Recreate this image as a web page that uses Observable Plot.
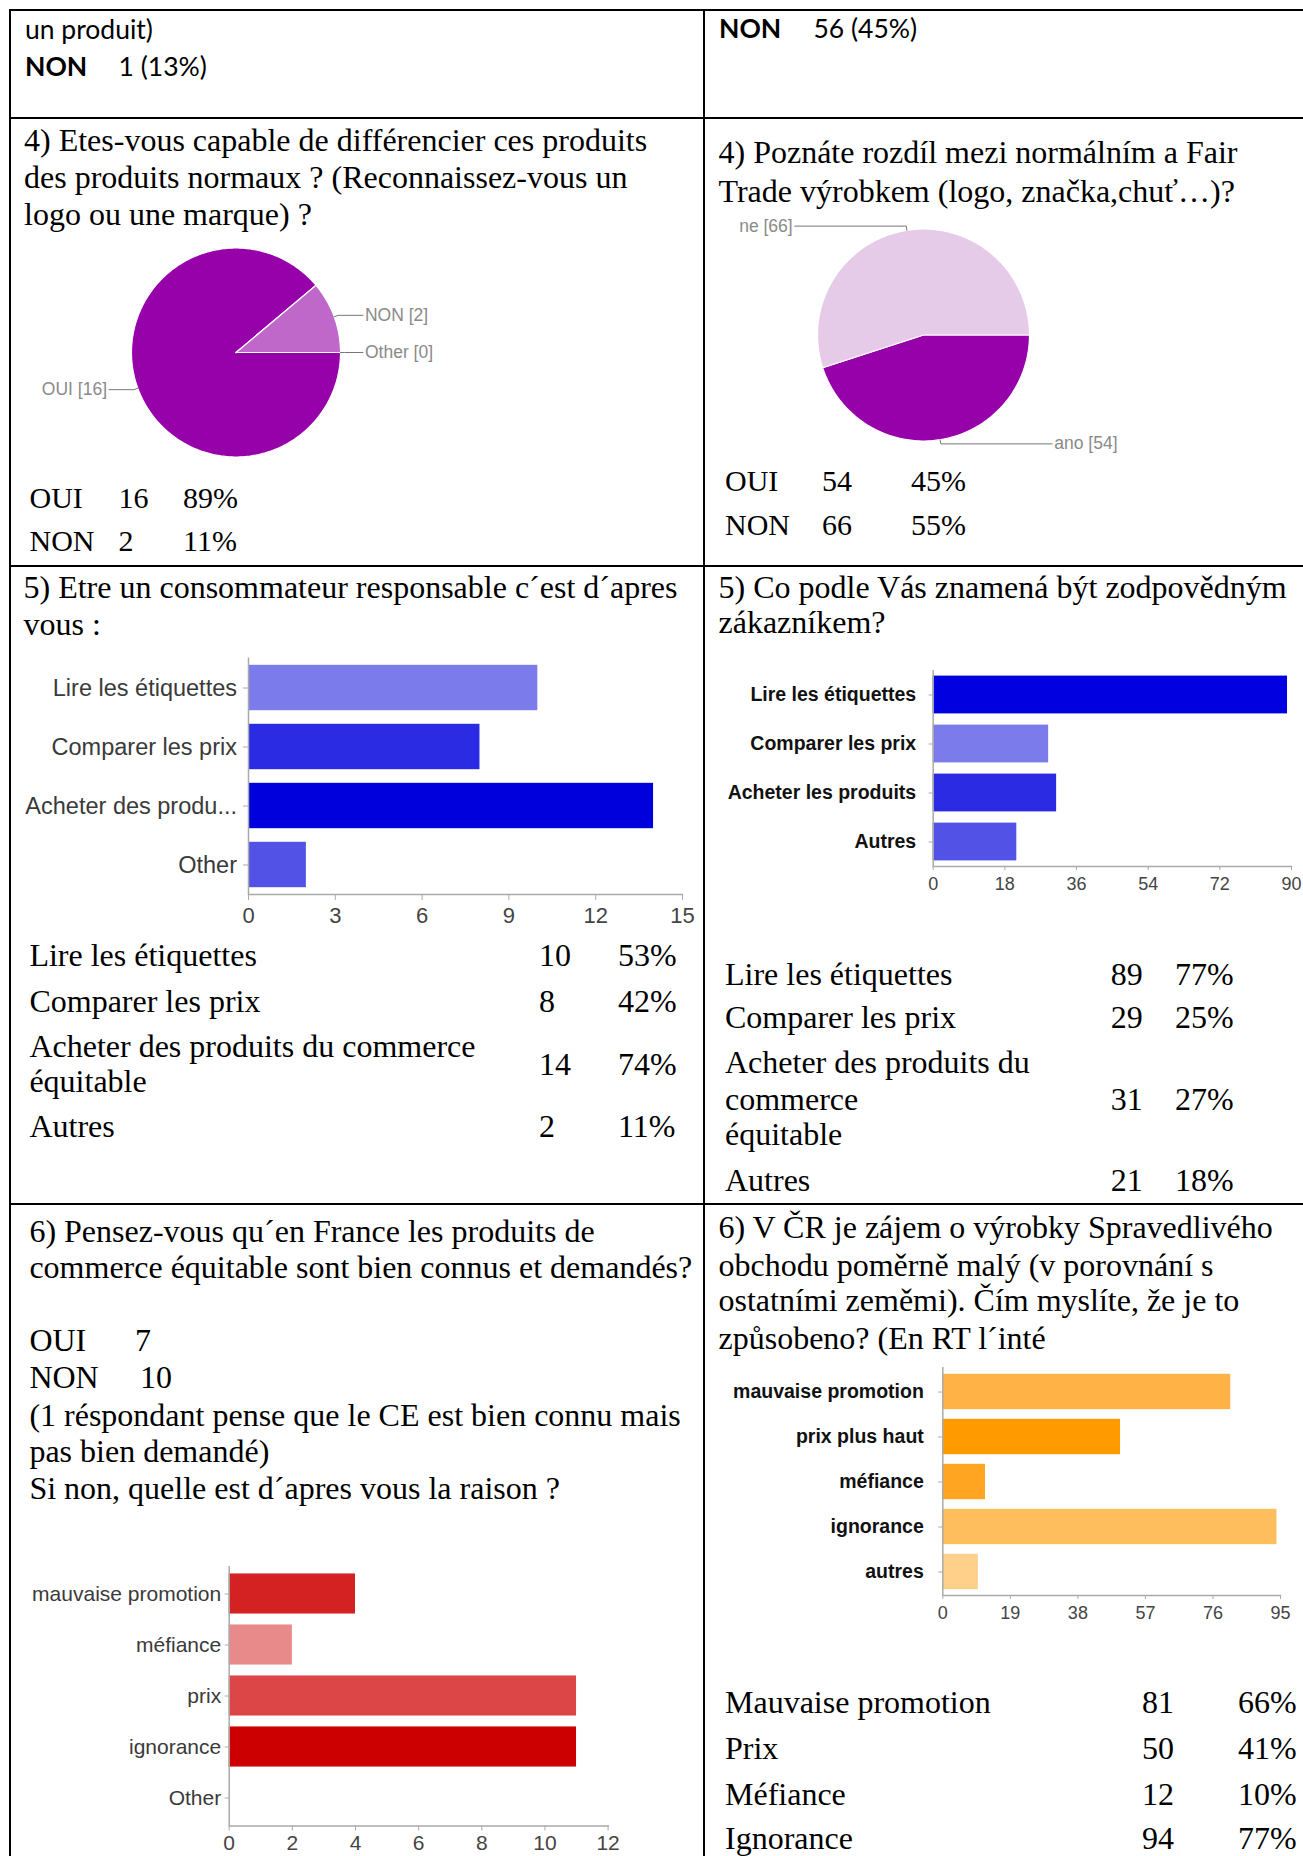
<!DOCTYPE html>
<html>
<head>
<meta charset="utf-8">
<script src="https://cdn.jsdelivr.net/npm/d3@7"></script>
<script src="https://cdn.jsdelivr.net/npm/@observablehq/plot@0.6"></script>
<style>
  html, body { margin: 0; padding: 0; background: #fff; }
  #page { position: relative; width: 1303px; height: 1856px; overflow: hidden; background: #fff; }
  .t { position: absolute; white-space: pre; color: #000; }
  .b { position: absolute; background: #000; }
  .c { position: absolute; }
  .c svg { max-width: none !important; }
</style>
</head>
<body>
<div id="page"></div>
<script>
// ---------------- DATA ----------------
// Top row (continuation of question 3)
const topLeftLine = "un produit)";
const topLeftNon = ["NON", "1 (13%)"];
const topRightNon = ["NON", "56 (45%)"];

// Question 4 – pies
const q4FrTitle = ["4) Etes-vous capable de différencier ces produits",
                   "des produits normaux ? (Reconnaissez-vous un",
                   "logo ou une marque) ?"];
const pieFrLabels = ["OUI", "NON", "Other"];
const pieFrValues = [16, 2, 0];
const q4FrRows = [["OUI", "16", "89%"], ["NON", "2", "11%"]];

const q4CzTitle = ["4) Poznáte rozdíl mezi normálním a Fair",
                   "Trade výrobkem (logo, značka,chuť…)?"];
const pieCzLabels = ["ano", "ne"];
const pieCzValues = [54, 66];
const q4CzRows = [["OUI", "54", "45%"], ["NON", "66", "55%"]];

// Question 5 – bars
const q5FrTitle = ["5) Etre un consommateur responsable c´est d´apres", "vous :"];
const q5FrCategories = ["Lire les étiquettes", "Comparer les prix", "Acheter des produ...", "Other"];
const q5FrValues = [10, 8, 14, 2];
const q5FrTicks = [0, 3, 6, 9, 12, 15];
const q5FrRowLabels = ["Lire les étiquettes", "Comparer les prix", ["Acheter des produits du commerce", "équitable"], "Autres"];
const q5FrRowCounts = ["10", "8", "14", "2"];
const q5FrRowPercents = ["53%", "42%", "74%", "11%"];

const q5CzTitle = ["5) Co podle Vás znamená být zodpovědným", "zákazníkem?"];
const q5CzCategories = ["Lire les étiquettes", "Comparer les prix", "Acheter les produits", "Autres"];
const q5CzValues = [89, 29, 31, 21];
const q5CzTicks = [0, 18, 36, 54, 72, 90];
const q5CzRowLabels = ["Lire les étiquettes", "Comparer les prix", ["Acheter des produits du", "commerce", "équitable"], "Autres"];
const q5CzRowCounts = ["89", "29", "31", "21"];
const q5CzRowPercents = ["77%", "25%", "27%", "18%"];

// Question 6 – bars
const q6FrText = ["6) Pensez-vous qu´en France les produits de",
                  "commerce équitable sont bien connus et demandés?"];
const q6FrYesNo = [["OUI", "7"], ["NON", "10"]];
const q6FrNote = ["(1 réspondant pense que le CE est bien connu mais",
                  "pas bien demandé)",
                  "Si non, quelle est d´apres vous la raison ?"];
const q6FrCategories = ["mauvaise promotion", "méfiance", "prix", "ignorance", "Other"];
const q6FrValues = [4, 2, 11, 11, 0];
const q6FrTicks = [0, 2, 4, 6, 8, 10, 12];

const q6CzTitle = ["6) V ČR je zájem o výrobky Spravedlivého",
                   "obchodu poměrně malý (v porovnání s",
                   "ostatními zeměmi). Čím myslíte, že je to",
                   "způsobeno? (En RT l´inté"];
const q6CzCategories = ["mauvaise promotion", "prix plus haut", "méfiance", "ignorance", "autres"];
const q6CzValues = [81, 50, 12, 94, 10];
const q6CzTicks = [0, 19, 38, 57, 76, 95];
const q6CzRowLabels = ["Mauvaise promotion", "Prix", "Méfiance", "Ignorance"];
const q6CzRowCounts = ["81", "50", "12", "94"];
const q6CzRowPercents = ["66%", "41%", "10%", "77%"];

// ---------------- STYLES ----------------
const pieFrColors = ["#9601aa", "#c068ca", "#e0b0e6"];
const pieCzColors = ["#9601aa", "#e6cbe9"];
const q5FrColors = ["#7b7beb", "#2b2be3", "#0000dd", "#5252e6"];
const q5CzColors = ["#0000e0", "#7b7beb", "#2b2be3", "#5252e6"];
const q6FrColors = ["#d42222", "#e88a8a", "#dc4646", "#cc0000", "#dddddd"];
const q6CzColors = ["#ffb347", "#ff9a00", "#ffa522", "#ffbe5e", "#ffd08a"];

const SERIF = "'Liberation Serif', 'Times New Roman', serif";
const SANS = "'Liberation Sans', Arial, sans-serif";
const CAL = "Lato, 'Open Sans', sans-serif";

const page = document.getElementById("page");

function txt(s, x, cy, size, family, opts = {}) {
  const d = document.createElement("div");
  d.className = "t";
  d.textContent = s;
  const k = opts.k ?? 0.51;
  Object.assign(d.style, {
    left: x + "px", top: (cy - size * k) + "px",
    fontSize: size + "px", lineHeight: size + "px",
    fontFamily: family, fontWeight: opts.weight || "normal"
  });
  page.appendChild(d);
}
function box(x, y, w, h) {
  const d = document.createElement("div");
  d.className = "b";
  Object.assign(d.style, {left: x + "px", top: y + "px", width: w + "px", height: h + "px"});
  page.appendChild(d);
}
function place(svg, x, y, w, h) {
  const d = document.createElement("div");
  d.className = "c";
  Object.assign(d.style, {left: x + "px", top: y + "px", width: w + "px", height: h + "px"});
  d.appendChild(svg);
  page.appendChild(d);
}

// ---------------- TABLE GRID ----------------
box(9, 9, 1294, 2);
box(9, 9, 2, 1847);
box(703, 9, 2, 1847);
box(9, 117, 1294, 2);
box(9, 565, 1294, 2);
box(9, 1203, 1294, 2);

// ---------------- TOP ROW ----------------
txt(topLeftLine, 25, 30, 26.5, CAL, {k: 0.53});
txt(topLeftNon[0], 25, 67, 26.5, CAL, {k: 0.53, weight: "bold"});
txt(topLeftNon[1], 118.6, 67, 26.5, CAL, {k: 0.53});
txt(topRightNon[0], 719, 29, 26.5, CAL, {k: 0.53, weight: "bold"});
txt(topRightNon[1], 813.5, 29, 26.5, CAL, {k: 0.53});

// ---------------- PIES ----------------
function piePlot(labels, values, colors, w, h, cx, cy, r) {
  const arcs = d3.pie().sort(null).startAngle(Math.PI / 2).endAngle(Math.PI / 2 + 2 * Math.PI)(values);
  const slices = [];
  const leaders = [];
  const tags = [];
  arcs.forEach((a, i) => {
    const k = labels[i];
    const n = Math.max(2, Math.ceil((a.endAngle - a.startAngle) / (Math.PI / 180)));
    slices.push({k, x: 0, y: 0});
    for (let j = 0; j <= n; j++) {
      const t = a.startAngle + (a.endAngle - a.startAngle) * j / n;
      slices.push({k, x: Math.sin(t), y: Math.cos(t)});
    }
    slices.push({k, x: 0, y: 0});
    const m = (a.startAngle + a.endAngle) / 2;
    const side = Math.sin(m) >= 0 ? 1 : -1;
    const ex = side * 1.215;
    const yy = Math.cos(m) * 1.04;
    leaders.push({k, x: Math.sin(m), y: Math.cos(m)});
    leaders.push({k, x: Math.sin(m) * 1.04, y: yy});
    leaders.push({k, x: ex, y: yy});
    tags.push({k, side, x: ex, y: yy, text: `${k} [${values[i]}]`});
  });
  return Plot.plot({
    width: w, height: h, margin: 0,
    style: {fontFamily: SANS, background: "transparent", overflow: "visible"},
    x: {domain: [-1, 1], range: [cx - r, cx + r], axis: null},
    y: {domain: [-1, 1], range: [cy + r, cy - r], axis: null},
    color: {domain: labels, range: colors},
    marks: [
      Plot.line(slices, {x: "x", y: "y", z: "k", fill: "k", stroke: "white", strokeWidth: 1.2, curve: "linear"}),
      Plot.line(leaders, {x: "x", y: "y", z: "k", stroke: "#777", strokeWidth: 1, curve: "linear"}),
      Plot.text(tags.filter(d => d.side > 0), {x: "x", y: "y", text: "text", textAnchor: "start", dx: 2, fill: "#8a8a8a", fontSize: 17.5}),
      Plot.text(tags.filter(d => d.side < 0), {x: "x", y: "y", text: "text", textAnchor: "end", dx: -2, fill: "#8a8a8a", fontSize: 17.5})
    ]
  });
}

// Question 4 text
q4FrTitle.forEach((s, i) => txt(s, 24, [140, 177.5, 214.5][i], 32, SERIF));
place(piePlot(pieFrLabels, pieFrValues, pieFrColors, 440, 260, 215.5, 137, 104.5), 20, 215, 440, 260);
q4FrRows.forEach((row, i) => {
  const cy = [498, 541.6][i];
  [29.5, 118.6, 183].forEach((x, j) => txt(row[j], x, cy, 30, SERIF));
});

q4CzTitle.forEach((s, i) => txt(s, 718.5, [152, 191][i], 32, SERIF));
place(piePlot(pieCzLabels, pieCzValues, pieCzColors, 440, 260, 208, 129.5, 106), 715, 205, 440, 260);
q4CzRows.forEach((row, i) => {
  const cy = [481.6, 525][i];
  [725, 822, 911].forEach((x, j) => txt(row[j], x, cy, 30, SERIF));
});

// ---------------- BAR CHARTS ----------------
function barPlot(cfg) {
  const data = cfg.categories.map((c, i) => ({cat: c, value: cfg.values[i]}));
  return Plot.plot({
    width: cfg.w, height: cfg.h,
    marginLeft: cfg.ml, marginRight: cfg.mr, marginTop: cfg.mt, marginBottom: cfg.mb,
    style: {fontFamily: SANS, background: "transparent", overflow: "visible", color: "#444"},
    x: {domain: [cfg.ticks[0], cfg.ticks[cfg.ticks.length - 1]]},
    y: {domain: cfg.categories, padding: 0},
    color: {domain: cfg.categories, range: cfg.colors},
    marks: [
      Plot.barX(data, {x: "value", y: "cat", fill: "cat", insetTop: cfg.inset, insetBottom: cfg.inset}),
      Plot.ruleX([0], {stroke: "#aaa", strokeWidth: 1.5}),
      Plot.frame({anchor: "bottom", stroke: "#aaa", strokeWidth: 1.5}),
      Plot.axisY({tickSize: cfg.ytick, tickPadding: cfg.ypad, stroke: "#aaa", fill: cfg.labelFill,
                  fontSize: cfg.labelSize, fontWeight: cfg.labelWeight, label: null}),
      Plot.axisX({ticks: cfg.ticks, tickSize: cfg.xtick, tickPadding: cfg.xpad, stroke: "#aaa", fill: "#444",
                  fontSize: cfg.tickFont, label: null, tickFormat: d => String(d)})
    ]
  });
}

// Question 5 French
q5FrTitle.forEach((s, i) => txt(s, 23.5, [587.6, 624.6][i], 32, SERIF));
place(barPlot({
  categories: q5FrCategories, values: q5FrValues, ticks: q5FrTicks, colors: q5FrColors,
  w: 690, h: 305, ml: 236, mr: 20, mt: 17.5, mb: 51, inset: 6.8,
  ytick: 5, ypad: 6.5, labelFill: "#3a3a3a", labelSize: 23.5, labelWeight: "normal",
  xtick: 6, xpad: 7, tickFont: 22
}), 12, 640, 690, 305);
{
  const ys = [[955.7], [1001], [1046, 1081], [1126]];
  const ny = [955.7, 1001, 1064.8, 1126];
  q5FrRowLabels.forEach((lab, i) => {
    (Array.isArray(lab) ? lab : [lab]).forEach((s, j) => txt(s, 29.4, ys[i][j], 32, SERIF));
    txt(q5FrRowCounts[i], 539, ny[i], 32, SERIF);
    txt(q5FrRowPercents[i], 618, ny[i], 32, SERIF);
  });
}

// Question 5 Czech
q5CzTitle.forEach((s, i) => txt(s, 718.5, [587.6, 622.6][i], 32, SERIF));
place(barPlot({
  categories: q5CzCategories, values: q5CzValues, ticks: q5CzTicks, colors: q5CzColors,
  w: 596, h: 265, ml: 225.7, mr: 12, mt: 20, mb: 49, inset: 5.6,
  ytick: 4, ypad: 13, labelFill: "#111", labelSize: 19.5, labelWeight: "bold",
  xtick: 4, xpad: 7, tickFont: 18
}), 707, 650, 596, 265);
{
  const ys = [[974], [1017.5], [1062.7, 1099.7, 1134.7], [1180.7]];
  const ny = [974, 1017.5, 1099.7, 1180.7];
  q5CzRowLabels.forEach((lab, i) => {
    (Array.isArray(lab) ? lab : [lab]).forEach((s, j) => txt(s, 725, ys[i][j], 32, SERIF));
    txt(q5CzRowCounts[i], 1110.7, ny[i], 32, SERIF);
    txt(q5CzRowPercents[i], 1175, ny[i], 32, SERIF);
  });
}

// Question 6 French
q6FrText.forEach((s, i) => txt(s, 29.4, [1231.4, 1267][i], 32, SERIF));
q6FrYesNo.forEach((row, i) => {
  const cy = [1340, 1377.8][i];
  txt(row[0], 29.4, cy, 32, SERIF);
  txt(row[1], [135, 140][i], cy, 32, SERIF);
});
q6FrNote.forEach((s, i) => txt(s, 29.4, [1415.5, 1451, 1488.7][i], 32, SERIF));
place(barPlot({
  categories: q6FrCategories, values: q6FrValues, ticks: q6FrTicks, colors: q6FrColors,
  w: 690, h: 306, ml: 216.7, mr: 94.4, mt: 16, mb: 30.5, inset: 5.45,
  ytick: 4, ypad: 4, labelFill: "#3a3a3a", labelSize: 21, labelWeight: "normal",
  xtick: 5, xpad: 4, tickFont: 21
}), 12, 1550, 690, 306);

// Question 6 Czech
q6CzTitle.forEach((s, i) => txt(s, 718.5, [1227, 1265, 1300, 1338][i], 32, SERIF));
place(barPlot({
  categories: q6CzCategories, values: q6CzValues, ticks: q6CzTicks, colors: q6CzColors,
  w: 596, h: 290, ml: 235.3, mr: 23, mt: 17, mb: 45, inset: 4.8,
  ytick: 4, ypad: 15, labelFill: "#111", labelSize: 19.5, labelWeight: "bold",
  xtick: 4, xpad: 6.5, tickFont: 18
}), 707, 1350, 596, 290);
q6CzRowLabels.forEach((s, i) => {
  const cy = [1702, 1748, 1794, 1838][i];
  txt(s, 725, cy, 32, SERIF);
  txt(q6CzRowCounts[i], 1142, cy, 32, SERIF);
  txt(q6CzRowPercents[i], 1238, cy, 32, SERIF);
});
</script>
</body>
</html>
